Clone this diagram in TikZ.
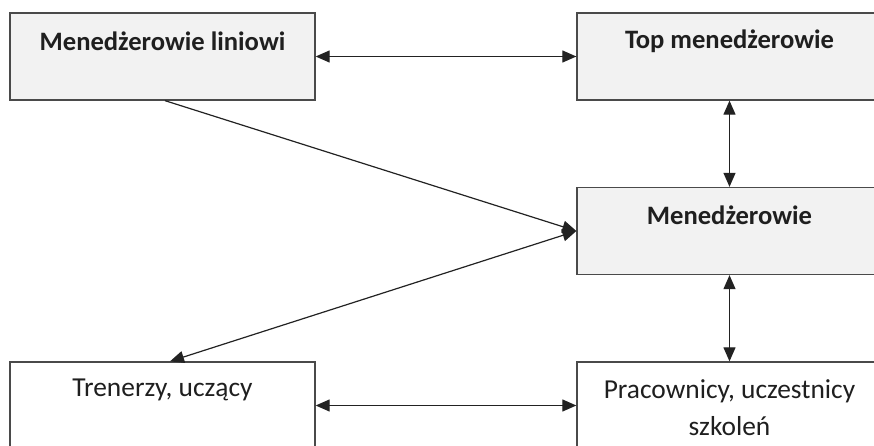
\documentclass[tikz,border=0pt]{standalone}
\usepackage{fontspec}
\setmainfont{Carlito}
\usetikzlibrary{arrows.meta}
\definecolor{boxfill}{HTML}{F2F2F2}
\definecolor{boxline}{HTML}{4A4A4A}
\definecolor{arr}{HTML}{222222}
\tikzset{
  box/.style={draw=boxline, line width=1.3pt, minimum width=305pt, minimum height=87pt, inner sep=0pt, anchor=center},
  graybox/.style={box, fill=boxfill},
  whitebox/.style={box, fill=white},
  btxt/.style={font=\fontsize{26.6}{32}\selectfont\bfseries, text=black!88, inner sep=0pt},
  rtxt/.style={font=\fontsize{27.4}{37}\selectfont, text=black!88, inner sep=0pt, align=center},
  conn/.style={draw=arr, line width=1.2pt, -{Triangle[length=14pt,width=12pt]}},
  bconn/.style={draw=arr, line width=1.2pt, {Triangle[length=14pt,width=12pt]}-{Triangle[length=14pt,width=12pt]}}
}
\begin{document}
\begin{tikzpicture}[x=1pt,y=-1pt]
\useasboundingbox (0,0) rectangle (874,446);
\clip (0,0) rectangle (874,446);
\node[graybox] (b1) at (162.5,56.5) {};
\node[graybox] (b2) at (729.5,56.5) {};
\node[graybox] (b3) at (729.5,231) {};
\node[whitebox] (b4) at (162.5,405.5) {};
\node[whitebox] (b5) at (729.5,405.5) {};
\node[btxt] (t1) at (162.5,41) {Menedżerowie liniowi};
\node[btxt] (t2) at (729.5,41) {Top menedżerowie};
\node[btxt] (t3) at (729.5,215) {Menedżerowie};
\node[rtxt] (t4) at (162.5,390) {Trenerzy, uczący};
\node[rtxt] (t5) at (729.5,408) {Pracownicy, uczestnicy\\szkoleń};
\draw[bconn] (b1.east) -- (b2.west);
\draw[bconn] (b2.south) -- (b3.north);
\draw[bconn] (b3.south) -- (b5.north);
\draw[bconn] (b4.east) -- (b5.west);
\draw[conn] ([xshift=2.5pt]b1.south) -- (b3.west);
\draw[bconn] (b3.west) -- ([xshift=7.5pt]b4.north);
\end{tikzpicture}
\end{document}
